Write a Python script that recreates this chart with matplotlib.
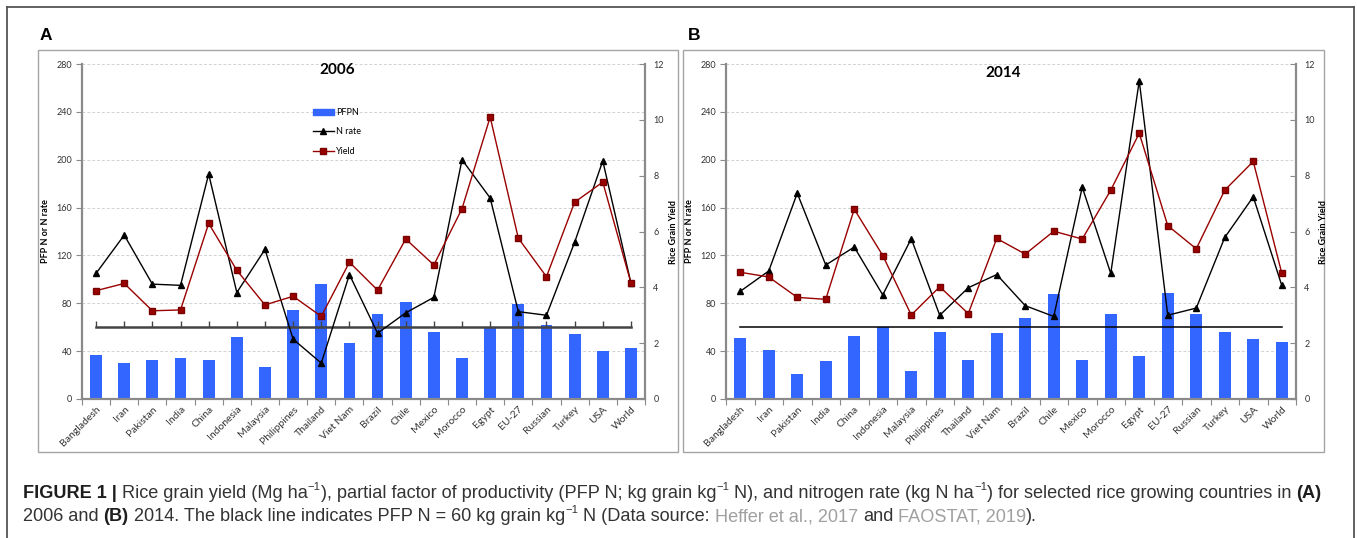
import matplotlib
matplotlib.use('Agg')
import matplotlib.pyplot as plt
import numpy as np
from matplotlib import font_manager
from matplotlib.patches import Patch, Rectangle
from matplotlib.lines import Line2D

# Datos
countries = ['Bangladesh', 'Iran', 'Pakistan', 'India', 'China', 'Indonesia', 'Malaysia',
             'Philippines', 'Thailand', 'Viet Nam', 'Brazil', 'Chile', 'Mexico', 'Morocco',
             'Egypt', 'EU-27', 'Russian', 'Turkey', 'USA', 'World']

pfpn_2006 = [37, 30, 33, 34, 33, 52, 27, 74, 96, 47, 71, 81, 56, 34, 60, 79, 62, 54, 40, 43]
nrate_2006 = [105, 137, 96, 95, 188, 89, 125, 50, 30, 104, 55, 72, 85, 200, 168, 73, 70, 131, 199, 97]
yield_2006 = [3.88, 4.14, 3.16, 3.19, 6.29, 4.61, 3.37, 3.68, 2.96, 4.90, 3.90, 5.73, 4.80, 6.82,
              10.10, 5.76, 4.38, 7.05, 7.77, 4.16]

pfpn_2014 = [51, 41, 21, 32, 53, 60, 23, 56, 33, 55, 68, 88, 33, 71, 36, 89, 71, 56, 50, 48]
nrate_2014 = [90, 107, 172, 112, 127, 87, 134, 70, 93, 104, 78, 69, 177, 105, 266, 70, 76, 135, 169, 95]
yield_2014 = [4.54, 4.37, 3.64, 3.57, 6.80, 5.14, 3.01, 4.02, 3.06, 5.75, 5.19, 6.01, 5.73, 7.48,
              9.52, 6.21, 5.38, 7.48, 8.51, 4.51]

pfpn_threshold = 60

W, H = 1357, 538


def pick_font(names):
    available = {f.name for f in font_manager.fontManager.ttflist}
    for n in names:
        if n in available:
            return n
    return 'DejaVu Sans'


CHART_FONT = pick_font(['Lato', 'Open Sans', 'DejaVu Sans'])
CAPTION_FONT = pick_font(['Liberation Sans Narrow', 'Liberation Sans', 'DejaVu Sans'])
LETTER_FONT = pick_font(['Liberation Sans', 'DejaVu Sans'])


# Convierte píxeles a coordenadas de figura
def fx(x):
    return x / W


def fy(y):
    return 1 - y / H


def draw_panel(fig, box, pfpn, nrate, yld, year, title_pos, thick_line, legend=False):
    x0, y0, x1, y1 = box
    ax = fig.add_axes([fx(x0), fy(y1), (x1 - x0) / W, (y1 - y0) / H])
    n = len(countries)
    x = np.arange(n)
    gray = '#8a8a8a'

    ax.bar(x, pfpn, width=0.42, color='#3366ff', zorder=2)
    ax.set_xlim(-0.5, n - 0.5)
    ax.set_ylim(0, 280)
    ax.set_yticks(np.arange(0, 281, 40))
    ax.yaxis.grid(True, linestyle=(0, (3, 2)), color='#d2d2d2', lw=0.7)
    ax.set_axisbelow(True)

    # línea PFP N = 60
    if thick_line:
        ax.plot(x, [pfpn_threshold] * n, color='#444444', lw=1.8, marker=2, ms=4, mew=1, zorder=3)
    else:
        ax.plot(x, [pfpn_threshold] * n, color='black', lw=1.1, zorder=3)

    ax.plot(x, nrate, color='black', lw=1, marker='^', ms=4.5, zorder=4)

    ax2 = ax.twinx()
    ax2.plot(x, yld, color='#990000', lw=1, marker='s', ms=4.3, mec='#7a0000', zorder=4)
    ax2.set_ylim(0, 12)
    ax2.set_yticks(np.arange(0, 13, 2))

    ax.set_xticks(x)
    ax.set_xticklabels(countries, rotation=45, ha='right', rotation_mode='anchor',
                       fontsize=7.5, family=CHART_FONT, color='#333333')
    ax.set_xticks(np.arange(-0.5, n, 1), minor=True)
    ax.tick_params(axis='x', which='major', length=0, pad=4)
    ax.tick_params(axis='x', which='minor', length=4, color=gray, width=0.8)
    ax.tick_params(axis='y', length=4, color=gray, width=0.8, labelsize=6.5, labelcolor='#333333', pad=3)
    ax2.tick_params(axis='y', direction='in', length=4, color=gray, width=0.8, labelsize=6.5,
                    labelcolor='#333333', pad=6)
    for lab in ax.get_yticklabels() + ax2.get_yticklabels():
        lab.set_family(CHART_FONT)

    for s in ['top', 'right']:
        ax.spines[s].set_visible(False)
    for s in ['left', 'bottom']:
        ax.spines[s].set_color(gray)
        ax.spines[s].set_linewidth(1.6)
    for s in ['top', 'left', 'bottom']:
        ax2.spines[s].set_visible(False)
    ax2.spines['right'].set_color(gray)
    ax2.spines['right'].set_linewidth(1.6)

    ax.text(title_pos[0], title_pos[1], year, transform=ax.transAxes, ha='center', va='center',
            fontsize=11, fontweight='bold', family=CHART_FONT)

    yc = fy((y0 + y1) / 2)
    fig.text(fx(x0 - 36), yc, 'PFP N or N rate', rotation=90, ha='center', va='center',
             fontsize=6.5, fontweight='bold', family=CHART_FONT)
    fig.text(fx(x1 + 28), yc, 'Rice Grain Yield', rotation=90, ha='center', va='center',
             fontsize=6.5, fontweight='bold', family=CHART_FONT)

    if legend:
        handles = [Patch(color='#3366ff'),
                   Line2D([], [], color='black', lw=1, marker='^', ms=4),
                   Line2D([], [], color='#990000', lw=1, marker='s', ms=4, mec='#7a0000')]
        ax.legend(handles, ['PFPN', 'N rate', 'Yield'], loc='upper left',
                  bbox_to_anchor=(fx(313), fy(108)), bbox_transform=fig.transFigure,
                  frameon=False, borderpad=0, borderaxespad=0, handlelength=2.3,
                  handletextpad=0.3, labelspacing=1.15, prop={'family': CHART_FONT, 'size': 6.5})
    return ax


# Escribe trozos de texto con estilos distintos uno tras otro
def draw_pieces(fig, renderer, x_px, y_px, pieces, size, measure=False):
    def width(s, fs, weight):
        t = fig.text(0, 0, s, fontsize=fs, fontweight=weight, family=CAPTION_FONT)
        w = t.get_window_extent(renderer).width
        t.remove()
        return w

    space = {wt: width('n n', size, wt) - width('nn', size, wt) for wt in ['normal', 'bold']}
    for text, kind in pieces:
        weight = 'bold' if kind == 'bold' else 'normal'
        color = '#a0a0a0' if kind == 'gray' else ('#1e1e1e' if kind == 'bold' else '#333333')
        fs = size * 0.62 if kind == 'sup' else size
        dy = size * 0.45 * 100 / 72 if kind == 'sup' else 0
        lead = len(text) - len(text.lstrip(' '))
        trail = len(text) - len(text.rstrip(' '))
        core = text.strip(' ')
        x_px += lead * space[weight]
        t = fig.text(fx(x_px), fy(y_px - dy), core, fontsize=fs, fontweight=weight, color=color,
                     family=CAPTION_FONT, va='baseline', ha='left')
        x_px += t.get_window_extent(renderer).width + trail * space[weight]
        if measure:
            t.remove()
    return x_px


def main():
    fig = plt.figure(figsize=(W / 100, H / 100), dpi=100)
    renderer = fig.canvas.get_renderer()

    # marcos
    edge = '#555555'
    fig.add_artist(Line2D([fx(7), fx(7)], [fy(7), fy(540)], color=edge, lw=1.3, transform=fig.transFigure))
    fig.add_artist(Line2D([fx(7), fx(1354)], [fy(7), fy(7)], color=edge, lw=1.3, transform=fig.transFigure))
    fig.add_artist(Line2D([fx(1354), fx(1354)], [fy(7), fy(540)], color=edge, lw=1.3, transform=fig.transFigure))
    for bx0, bx1 in [(38, 678), (683, 1324)]:
        fig.add_artist(Rectangle((fx(bx0), fy(452)), (bx1 - bx0) / W, (452 - 50) / H, fill=False,
                                 edgecolor='#a5a5a5', lw=1, transform=fig.transFigure))

    draw_panel(fig, (82, 64, 645, 399), pfpn_2006, nrate_2006, yield_2006, '2006', (0.453, 0.982),
               thick_line=True, legend=True)
    draw_panel(fig, (726, 64, 1296, 399), pfpn_2014, nrate_2014, yield_2014, '2014', (0.486, 0.972),
               thick_line=False)

    fig.text(fx(40), fy(40), 'A', fontsize=12.5, fontweight='bold', family=LETTER_FONT, va='baseline')
    fig.text(fx(688), fy(40), 'B', fontsize=12.5, fontweight='bold', family=LETTER_FONT, va='baseline')

    line1 = [('FIGURE 1 | ', 'bold'), ('Rice grain yield (Mg ha', 'normal'), ('\u22121', 'sup'),
             ('), partial factor of productivity (PFP N; kg grain kg', 'normal'), ('\u22121', 'sup'),
             (' N), and nitrogen rate (kg N ha', 'normal'), ('\u22121', 'sup'),
             (') for selected rice growing countries in ', 'normal'), ('(A)', 'bold')]
    line2 = [('2006 and ', 'normal'), ('(B)', 'bold'),
             (' 2014. The black line indicates PFP N = 60 kg grain kg', 'normal'), ('\u22121', 'sup'),
             (' N (Data source: ', 'normal'), ('Heffer et al., 2017', 'gray'), (' and ', 'normal'),
             ('FAOSTAT, 2019', 'gray'), (').', 'normal')]

    base = 11
    w = draw_pieces(fig, renderer, 0, 0, line1, base, measure=True)
    size = base * (1326 - 23) / w
    draw_pieces(fig, renderer, 23, 498, line1, size)
    draw_pieces(fig, renderer, 23, 521, line2, size)

    fig.savefig('out.png', dpi=100)
    plt.close(fig)


if __name__ == "__main__":
    main()
